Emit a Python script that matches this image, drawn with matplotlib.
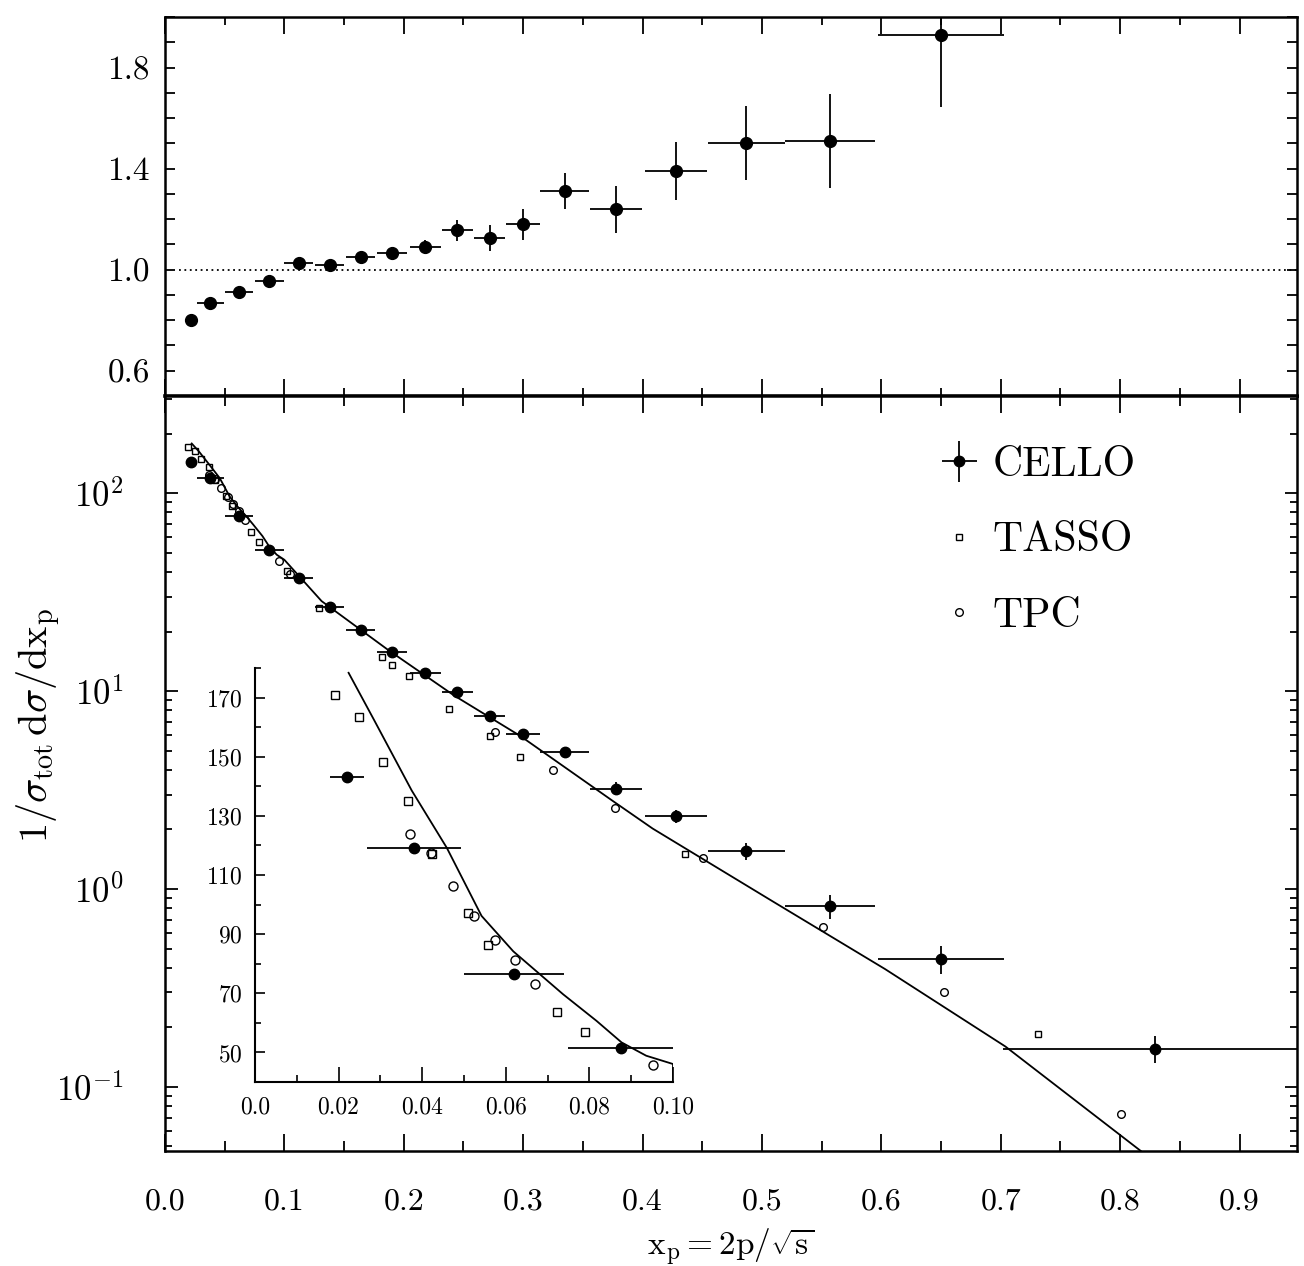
import matplotlib
matplotlib.use("Agg")
from matplotlib import pyplot as plt
from matplotlib.ticker import MultipleLocator, FixedLocator, FixedFormatter
from matplotlib.legend_handler import HandlerErrorbar
from matplotlib.container import ErrorbarContainer

plt.rcParams['font.family'] = 'serif'
plt.rcParams['font.serif'] = ['cmr10']
plt.rcParams['mathtext.fontset'] = 'cm'
plt.rcParams['axes.unicode_minus'] = False
plt.rcParams['axes.formatter.use_mathtext'] = True

# CELLO data (same bins in both panels)
cello_x = [0.022, 0.038, 0.062, 0.0875, 0.112, 0.138, 0.164, 0.190, 0.218, 0.245,
           0.272, 0.300, 0.335, 0.378, 0.428, 0.487, 0.557, 0.650, 0.829]
cello_xerr = [0.004, 0.0113, 0.012, 0.0125, 0.0123, 0.012, 0.0123, 0.0128, 0.013, 0.013,
              0.013, 0.0142, 0.0205, 0.0216, 0.026, 0.032, 0.0378, 0.0528, 0.127]
cello_y = [143, 119, 76.5, 51.5, 37.5, 26.6, 20.4, 15.7, 12.4, 9.9,
           7.45, 6.04, 4.9, 3.22, 2.33, 1.55, 0.818, 0.443, 0.156]
cello_yerr = [1.0, 1.0, 1.0, 0.8, 0.6, 0.45, 0.4, 0.35, 0.33, 0.35,
              0.35, 0.33, 0.33, 0.24, 0.17, 0.15, 0.11, 0.07, 0.024]

# data / model ratio (upper panel), first 18 CELLO bins
ratio = [0.80, 0.87, 0.91, 0.955, 1.025, 1.02, 1.05, 1.065, 1.09, 1.155,
         1.125, 1.18, 1.31, 1.24, 1.39, 1.50, 1.51, 1.93]
ratio_err = [0.0, 0.008, 0.01, 0.012, 0.015, 0.015, 0.018, 0.02, 0.028, 0.041,
             0.052, 0.062, 0.071, 0.093, 0.116, 0.147, 0.186, 0.286]

tasso_x = [0.0192, 0.0248, 0.0306, 0.0366, 0.0423, 0.0510, 0.0558, 0.0723, 0.0789, 0.1021,
           0.1292, 0.1819, 0.190, 0.2046, 0.2378, 0.2719, 0.2975, 0.4355, 0.731]
tasso_y = [170.8, 163.5, 148.1, 135.2, 117.1, 97.1, 86.5, 63.7, 57.0, 40.3,
           26.4, 14.96, 13.5, 11.96, 8.08, 5.91, 4.65, 1.50, 0.184]

tpc_x = [0.0370, 0.0421, 0.0473, 0.0524, 0.0574, 0.0622, 0.0671, 0.0951, 0.1049, 0.2767,
         0.3247, 0.3767, 0.451, 0.551, 0.6526, 0.801]
tpc_y = [124.0, 117.6, 106.4, 96.2, 88.2, 81.2, 73.3, 45.6, 39.0, 6.23,
         4.01, 2.58, 1.43, 0.644, 0.303, 0.0731]

# model curve
model_x = [0.0224, 0.0284, 0.0375, 0.0459, 0.0542, 0.0618, 0.0682, 0.0737, 0.0817, 0.0877,
           0.0936, 0.100, 0.1312, 0.1866, 0.2422, 0.2977, 0.3753, 0.4085, 0.5093, 0.6031,
           0.7039, 0.8174, 0.83]
model_y = [178.4, 162.7, 138.6, 119.2, 96.2, 84.2, 76.4, 69.7, 60.7, 53.4,
           48.9, 46.1, 28.5, 16.2, 9.5, 5.93, 2.78, 2.02, 0.864, 0.394,
           0.160, 0.0474, 0.040]

main_xticks = [0.0, 0.1, 0.2, 0.3, 0.4, 0.5, 0.6, 0.7, 0.8, 0.9]
main_xlabels = ['0.0', '0.1', '0.2', '0.3', '0.4', '0.5', '0.6', '0.7', '0.8', '0.9']
ratio_ticks = [0.6, 1.0, 1.4, 1.8]
inset_xticks = [0.0, 0.02, 0.04, 0.06, 0.08, 0.10]
inset_xlabels = ['0.0', '0.02', '0.04', '0.06', '0.08', '0.10']
inset_yticks = [50, 70, 90, 110, 130, 150, 170]

fig = plt.figure(figsize=(13.04, 12.66), dpi=100)
ax_top = fig.add_axes([0.1265, 0.6872, 0.868, 0.2994])
ax = fig.add_axes([0.1265, 0.0908, 0.868, 0.5964])
ax_in = fig.add_axes([0.1955, 0.1453, 0.3206, 0.3270])

for a in (ax_top, ax):
    for s in a.spines.values():
        s.set_linewidth(1.8)
ax_top.spines['bottom'].set_linewidth(2.6)

# ---- upper panel: ratio
n = len(ratio)
ax_top.errorbar(cello_x[:n], ratio, xerr=cello_xerr[:n], yerr=ratio_err,
                fmt='o', color='black', ms=8.5, elinewidth=1.3, capsize=0)
ax_top.axhline(1.0, color='black', lw=1.3, ls=(0, (1, 2)), xmin=0.012)
ax_top.set_xlim(0, 0.948)
ax_top.set_ylim(0.5, 2.0)
ax_top.xaxis.set_major_locator(MultipleLocator(0.1))
ax_top.xaxis.set_minor_locator(MultipleLocator(0.05))
ax_top.yaxis.set_major_locator(FixedLocator(ratio_ticks))
ax_top.yaxis.set_minor_locator(MultipleLocator(0.1))
ax_top.yaxis.set_major_formatter(FixedFormatter(['%.1f' % v for v in ratio_ticks]))
ax_top.tick_params(axis='x', which='both', direction='in', top=True, bottom=True,
                   labelbottom=False, width=1.3)
ax_top.tick_params(axis='x', which='major', length=12)
ax_top.tick_params(axis='x', which='minor', length=6)
ax_top.tick_params(axis='y', which='both', direction='in', left=True, right=True,
                   length=7, width=1.3, labelsize=24, pad=11)

# ---- lower panel: spectra
h_cello = ax.errorbar(cello_x, cello_y, xerr=cello_xerr, yerr=cello_yerr,
                      fmt='o', color='black', ms=7.5, elinewidth=1.3, capsize=0)
h_tasso, = ax.plot(tasso_x, tasso_y, ls='none', marker='s', ms=5, mfc='none',
                   mec='black', mew=1.0)
h_tpc, = ax.plot(tpc_x, tpc_y, ls='none', marker='o', ms=5.5, mfc='none',
                 mec='black', mew=1.0)
ax.plot(model_x, model_y, color='black', lw=1.3)
ax.set_yscale('log')
ax.set_xlim(0, 0.948)
ax.set_ylim(0.0474, 310)
ax.set_xticks(main_xticks)
ax.set_xticklabels(main_xlabels)
ax.xaxis.set_minor_locator(MultipleLocator(0.05))
ax.tick_params(axis='x', which='both', direction='in', top=True, bottom=True,
               width=1.3, labelsize=23, pad=27)
ax.tick_params(axis='x', which='major', length=12)
ax.tick_params(axis='x', which='minor', length=7)
ax.tick_params(axis='y', which='both', direction='in', left=True, right=True,
               width=1.3, labelsize=25, pad=30)
ax.tick_params(axis='y', which='major', length=9)
ax.tick_params(axis='y', which='minor', length=5)
ax.set_ylabel(r'$1/\sigma_{\rm tot}\,{\rm d}\sigma/{\rm d}{\rm x}_{\rm p}$', fontsize=29)
ax.yaxis.set_label_coords(-0.090, 0.564)
ax.set_xlabel(r'${\rm x}_{\rm p}{=}{\rm 2p}/\sqrt{\rm s}$', fontsize=24)
ax.xaxis.set_label_coords(0.5, -0.100)

ax.legend([h_cello, h_tasso, h_tpc], ['CELLO', 'TASSO', 'TPC'],
          loc='upper left', bbox_to_anchor=(0.687, 0.933), frameon=False,
          fontsize=30, numpoints=1, handlelength=0.8, handletextpad=0.4,
          labelspacing=0.91, borderpad=0, borderaxespad=0,
          handler_map={ErrorbarContainer: HandlerErrorbar(xerr_size=0.42, yerr_size=0.5)})

# ---- inset: linear scale, low x
k = sum(1 for v in cello_x if v < 0.1)
ax_in.errorbar(cello_x[:k], cello_y[:k], xerr=cello_xerr[:k], fmt='o', color='black',
               ms=7.5, elinewidth=1.3, capsize=0)
ax_in.plot([v for v in tasso_x if v < 0.1], [y for v, y in zip(tasso_x, tasso_y) if v < 0.1],
           ls='none', marker='s', ms=5.5, mfc='none', mec='black', mew=1.0)
ax_in.plot([v for v in tpc_x if v < 0.1], [y for v, y in zip(tpc_x, tpc_y) if v < 0.1],
           ls='none', marker='o', ms=6.5, mfc='none', mec='black', mew=1.0)
m = model_x.index(0.100) + 1
ax_in.plot(model_x[:m] + [model_x[m - 1]], model_y[:m] + [40], color='black', lw=1.3)
ax_in.set_xlim(0, 0.10)
ax_in.set_ylim(40, 180)
ax_in.patch.set_visible(False)
ax_in.spines['top'].set_visible(False)
ax_in.spines['right'].set_visible(False)
ax_in.spines['left'].set_linewidth(1.5)
ax_in.spines['bottom'].set_linewidth(1.5)
ax_in.set_xticks(inset_xticks)
ax_in.set_xticklabels(inset_xlabels)
ax_in.xaxis.set_minor_locator(MultipleLocator(0.01))
ax_in.set_yticks(inset_yticks)
ax_in.yaxis.set_minor_locator(MultipleLocator(10))
ax_in.tick_params(axis='both', which='both', direction='in', width=1.2, labelsize=17)
ax_in.tick_params(axis='x', which='major', length=11, pad=10)
ax_in.tick_params(axis='x', which='minor', length=5)
ax_in.tick_params(axis='y', which='major', length=7.5, pad=9)
ax_in.tick_params(axis='y', which='minor', length=4.5)

fig.savefig('out.png', dpi=100)
